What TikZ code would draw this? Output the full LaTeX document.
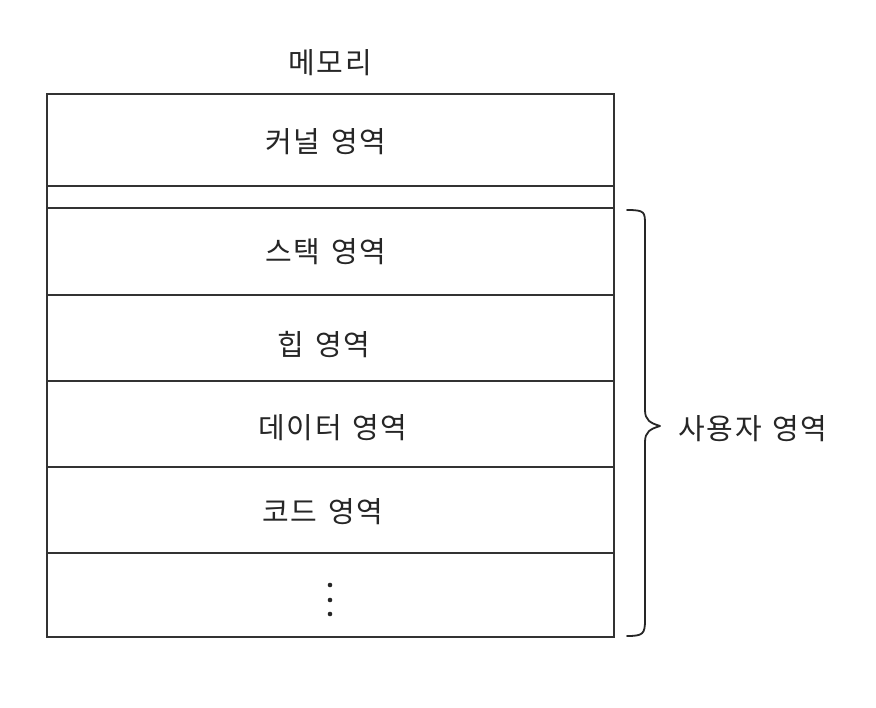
\documentclass[tikz,border=0pt]{standalone}
\usepackage{fontspec}
\newfontfamily\kr[LetterSpace=6,WordSpace=1.3]{Noto Sans CJK KR}
\begin{document}
\begin{tikzpicture}[x=1pt,y=-1pt,
  lbl/.style={font=\kr\fontsize{29}{32}\selectfont, text=black!85, inner sep=0pt},
  rowline/.style={line width=1.6pt, draw=black!80},
  brc/.style={line width=1.8pt, draw=black!85, line cap=round, line join=round}]
\useasboundingbox (0,0) rectangle (876,708);
\fill[white] (0,0) rectangle (876,708);
% frame
\draw[rowline] (47,94) rectangle (614,637);
\foreach \y in {186,208,295,381,467,553}
  \draw[rowline] (47,\y) -- (614,\y);
% labels
\node[lbl] (mem) at (330,63) {메모리};
\node[lbl] (kernel) at (326,142) {커널 영역};
\node[lbl] (stack) at (326,252) {스택 영역};
\node[lbl] (heap) at (324,345) {힙 영역};
\node[lbl] (data) at (333,428) {데이터 영역};
\node[lbl] (code) at (323,512) {코드 영역};
\foreach \y in {585,600,614} \fill[black!85] (330,\y) circle (2.3);
% brace
\draw[brc] (627,210) .. controls (645,210) and (645,212) .. (645,225)
  -- (645,410) .. controls (645,420) and (650,423) .. (660,426)
  .. controls (650,429) and (645,432) .. (645,442)
  -- (645,620) .. controls (645,634) and (643,636) .. (627,636);
\node[lbl, anchor=west] (user) at (678,429) {사용자 영역};
\end{tikzpicture}
\end{document}
